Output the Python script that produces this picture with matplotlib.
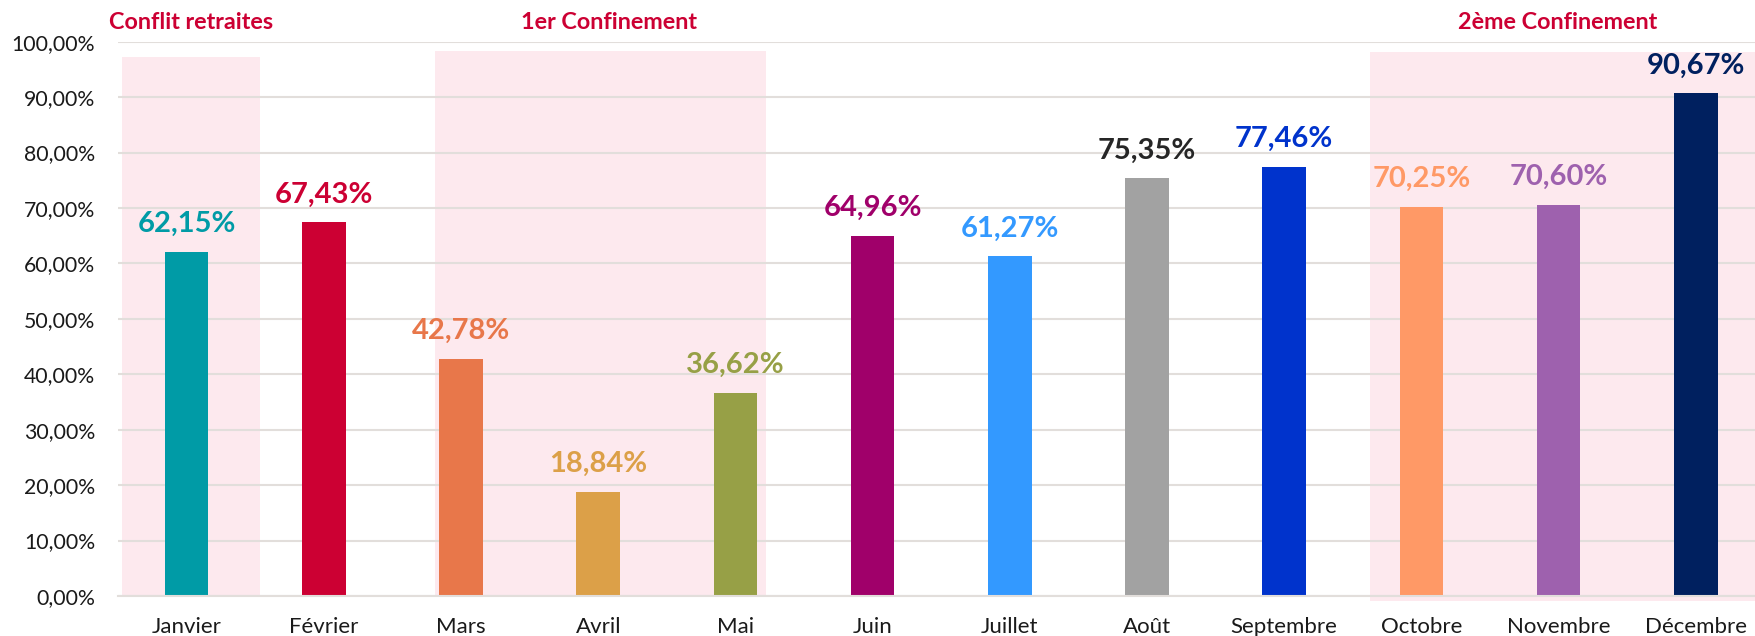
import matplotlib
matplotlib.use("Agg")
import matplotlib.pyplot as plt
from matplotlib.patches import Rectangle
from matplotlib.ticker import FuncFormatter

months = ["Janvier", "Février", "Mars", "Avril", "Mai", "Juin", "Juillet",
          "Août", "Septembre", "Octobre", "Novembre", "Décembre"]
values = [62.15, 67.43, 42.78, 18.84, 36.62, 64.96, 61.27, 75.35, 77.46, 70.25, 70.60, 90.67]
bar_colors = ["#009BA6", "#CC0033", "#E8774A", "#DCA048", "#97A046", "#A0006A",
              "#3399FF", "#A2A2A2", "#0033CC", "#FF9966", "#9E61AE", "#00205F"]
label_colors = ["#009BA6", "#CC0033", "#E8774A", "#DCA048", "#97A046", "#A0006A",
                "#3399FF", "#262626", "#0033CC", "#FF9966", "#9E61AE", "#00205F"]
period_names = ["Conflit retraites", "1er Confinement", "2ème Confinement"]
period_start = [-0.47, 1.81, 8.625]
period_end = [0.535, 4.223, 11.43]
period_top = [97.2, 98.3, 98.2]
period_bottom = [0.0, 0.0, -0.9]
period_label_x = [0.036, 3.077, 9.99]
yticks = list(range(0, 101, 10))

fig = plt.figure(figsize=(17.56, 6.36), dpi=100)
W, H = 1756, 636
left_px, right_px, top_px, bot_px = 118, 118 + 12 * 137.2, 41.7, 596
ax = fig.add_axes([left_px / W, (H - bot_px) / H, (right_px - left_px) / W, (bot_px - top_px) / H])

ax.set_xlim(-0.5, 11.5)
ax.set_ylim(0, 100)

pink = "#FDE9EE"
for name, s, e, t, b, lx in zip(period_names, period_start, period_end, period_top,
                                 period_bottom, period_label_x):
    ax.add_patch(Rectangle((s, b), e - s, t - b, facecolor=pink, edgecolor="none",
                           zorder=0, clip_on=False))
    ax.text(lx, 102.24, name, ha="center", va="baseline", color="#CC0033",
            fontsize=16.8, fontweight="bold", family="Lato", clip_on=False)

ax.set_yticks(yticks)
ax.yaxis.grid(True, color="#E2DEDB", linewidth=1.5, zorder=1)
ax.set_axisbelow(True)

x = list(range(len(months)))
ax.bar(x, values, width=0.318, color=bar_colors, zorder=3)

for xi, v, c in zip(x, values, label_colors):
    ax.annotate(f"{v:.2f}%".replace(".", ","), (xi, v), xytext=(0, 14.3),
                textcoords="offset points", ha="center", va="baseline",
                color=c, fontsize=21, fontweight="bold", family="Lato",
                annotation_clip=False, zorder=5)

ax.yaxis.set_major_formatter(FuncFormatter(lambda v, p: f"{v:.2f}%".replace(".", ",")))
ax.set_xticks(x)
ax.set_xticklabels(months)
for lab in ax.get_yticklabels():
    lab.set_family("Lato")
    lab.set_fontsize(15.3)
    lab.set_color("#1A1A1A")
for lab in ax.get_xticklabels():
    lab.set_family("Lato")
    lab.set_fontsize(16)
    lab.set_color("#1A1A1A")
ax.tick_params(axis="both", length=0)
ax.tick_params(axis="y", pad=16.5)
ax.tick_params(axis="x", pad=15)

for side in ["left", "right", "top"]:
    ax.spines[side].set_visible(False)
ax.spines["bottom"].set_color("#E2DEDB")
ax.spines["bottom"].set_linewidth(1.5)
ax.spines["bottom"].set_zorder(4)

fig.savefig("out.png", dpi=100)
